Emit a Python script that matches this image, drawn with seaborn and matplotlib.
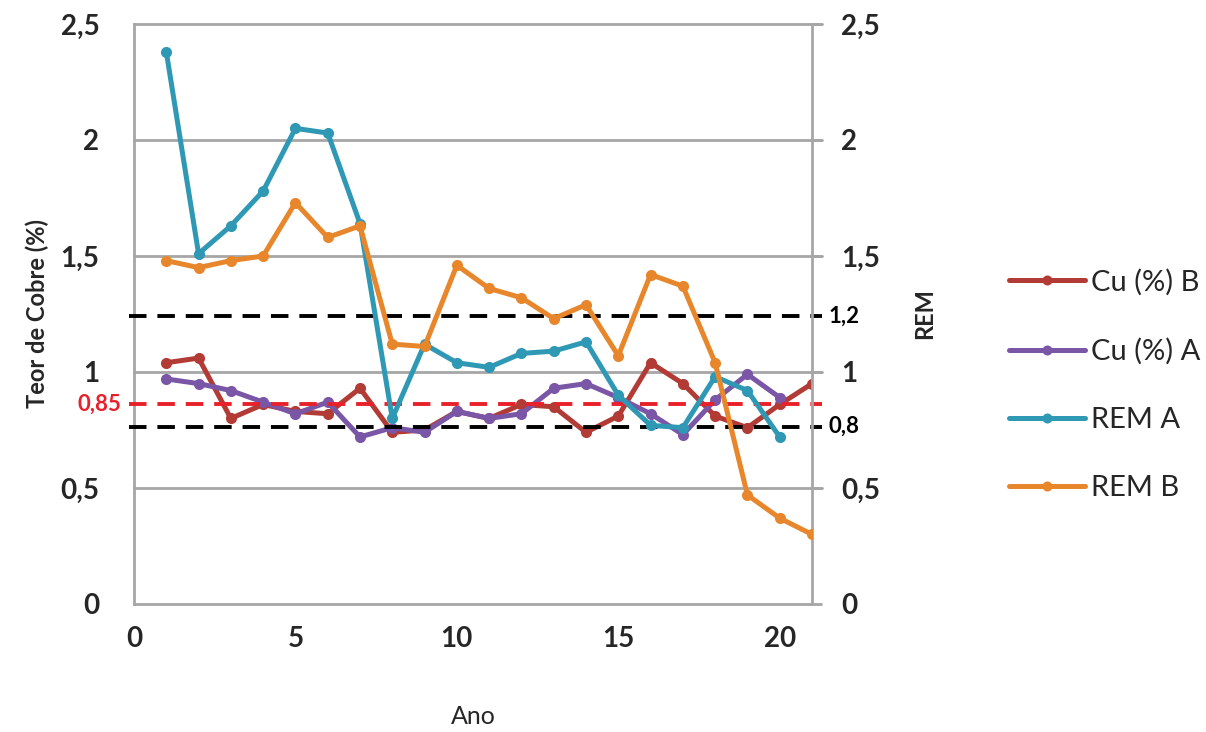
import numpy as np
import pandas as pd
import matplotlib
matplotlib.use("Agg")
import matplotlib.pyplot as plt
from matplotlib.ticker import FuncFormatter, MultipleLocator
import matplotlib.transforms as mtransforms
import seaborn as sns

# data
anos = list(range(1, 22))
cu_b = [1.04, 1.06, 0.80, 0.86, 0.83, 0.82, 0.93, 0.74, 0.75, 0.83, 0.80,
        0.86, 0.85, 0.74, 0.81, 1.04, 0.95, 0.81, 0.76, 0.86, 0.95]
cu_a = [0.97, 0.95, 0.92, 0.87, 0.82, 0.87, 0.72, 0.76, 0.74, 0.83, 0.80,
        0.82, 0.93, 0.95, 0.89, 0.82, 0.73, 0.88, 0.99, 0.89]
rem_a = [2.38, 1.51, 1.63, 1.78, 2.05, 2.03, 1.64, 0.80, 1.12, 1.04, 1.02,
         1.08, 1.09, 1.13, 0.90, 0.77, 0.76, 0.98, 0.92, 0.72]
rem_b = [1.48, 1.45, 1.48, 1.50, 1.73, 1.58, 1.63, 1.12, 1.11, 1.46, 1.36,
         1.32, 1.23, 1.29, 1.07, 1.42, 1.37, 1.04, 0.47, 0.37, 0.30]

# reference lines (as drawn) and their labels
ref_black = [1.24, 0.765]
ref_black_lbl = ["1,2", "0,8"]
ref_red = 0.86
ref_red_lbl = "0,85"

cores = {"Cu (%) B": "#b23b36", "Cu (%) A": "#7a56a6",
         "REM A": "#2f98b4", "REM B": "#e8862c"}

sns.set_theme(style="white")
plt.rcParams["font.family"] = ["Lato", "DejaVu Sans"]

fig = plt.figure(figsize=(12.06, 7.32), dpi=100)
ax = fig.add_axes([134 / 1206, 1 - 604 / 732, (812 - 134) / 1206, (604 - 24) / 732])
ax2 = ax.twinx()

grid_c = "#a6a6a6"
for y in np.arange(0.5, 2.51, 0.5):
    ax.axhline(y, xmin=0, xmax=1.015, color=grid_c, lw=2.0, zorder=0, clip_on=False)

kw = dict(marker="o", markersize=8, linewidth=3.6, markeredgewidth=0)
series = [("Cu (%) B", anos, cu_b, ax), ("Cu (%) A", anos[:20], cu_a, ax),
          ("REM A", anos[:20], rem_a, ax2), ("REM B", anos, rem_b, ax2)]
for nome, xs, ys, a in series:
    sns.lineplot(x=xs, y=ys, ax=a, color=cores[nome], label=nome, legend=False, zorder=3, **kw)

dash = (0, (4.5, 2.8))
for y in ref_black:
    ax.axhline(y, xmin=-0.008, xmax=1.015, color="black", lw=2.8, ls=dash,
               zorder=4, clip_on=False)
ax.axhline(ref_red, xmin=-0.008, xmax=1.015, color="#e8202a", lw=2.8, ls=dash,
           zorder=4, clip_on=False)

for a in (ax, ax2):
    a.set_xlim(0, 21)
    a.set_ylim(0, 2.5)
    a.yaxis.set_major_locator(MultipleLocator(0.5))
    a.yaxis.set_major_formatter(FuncFormatter(lambda v, p: f"{v:g}".replace(".", ",")))
    for s in a.spines.values():
        s.set_visible(False)

ax.xaxis.set_major_locator(MultipleLocator(5))
ax.spines["left"].set_visible(True)
ax.spines["bottom"].set_visible(True)
ax2.spines["right"].set_visible(True)
for s in (ax.spines["left"], ax.spines["bottom"], ax2.spines["right"]):
    s.set_color(grid_c)
    s.set_linewidth(2.0)

ax.tick_params(axis="y", length=0, pad=25)
ax.tick_params(axis="x", length=0, pad=16)
ax2.tick_params(axis="y", length=7, width=2, color=grid_c, pad=14, right=True)
for lab in ax.get_yticklabels() + ax.get_xticklabels() + ax2.get_yticklabels():
    lab.set_fontsize(20)
    lab.set_fontweight("bold")
    lab.set_color("#262626")

ax.set_xlabel("Ano", fontsize=18, color="#262626", labelpad=38)
ax.set_ylabel("Teor de Cobre (%)", fontsize=17, fontweight="bold", color="#262626", labelpad=8)
ax2.set_ylabel("REM", fontsize=17, fontweight="bold", color="#262626", labelpad=24)

# labels of the reference lines
trans_r = mtransforms.blended_transform_factory(ax.transAxes, ax.transData)
for y, t in zip(ref_black, ref_black_lbl):
    ax.text(1.025, y, t, transform=trans_r, ha="left", va="center",
            fontsize=16, fontweight="bold", color="black")
ax.text(-0.018, ref_red, ref_red_lbl, transform=trans_r, ha="right", va="center",
        fontsize=16, fontweight="bold", color="#e8202a")

h1, l1 = ax.get_legend_handles_labels()
h2, l2 = ax2.get_legend_handles_labels()
fig.legend(h1 + h2, l1 + l2, loc="center left", bbox_to_anchor=(0.815, 0.474),
           frameon=False, fontsize=21, labelspacing=1.45, handlelength=2.6,
           handletextpad=0.2, markerscale=0.9)

fig.savefig("out.png", dpi=100)
